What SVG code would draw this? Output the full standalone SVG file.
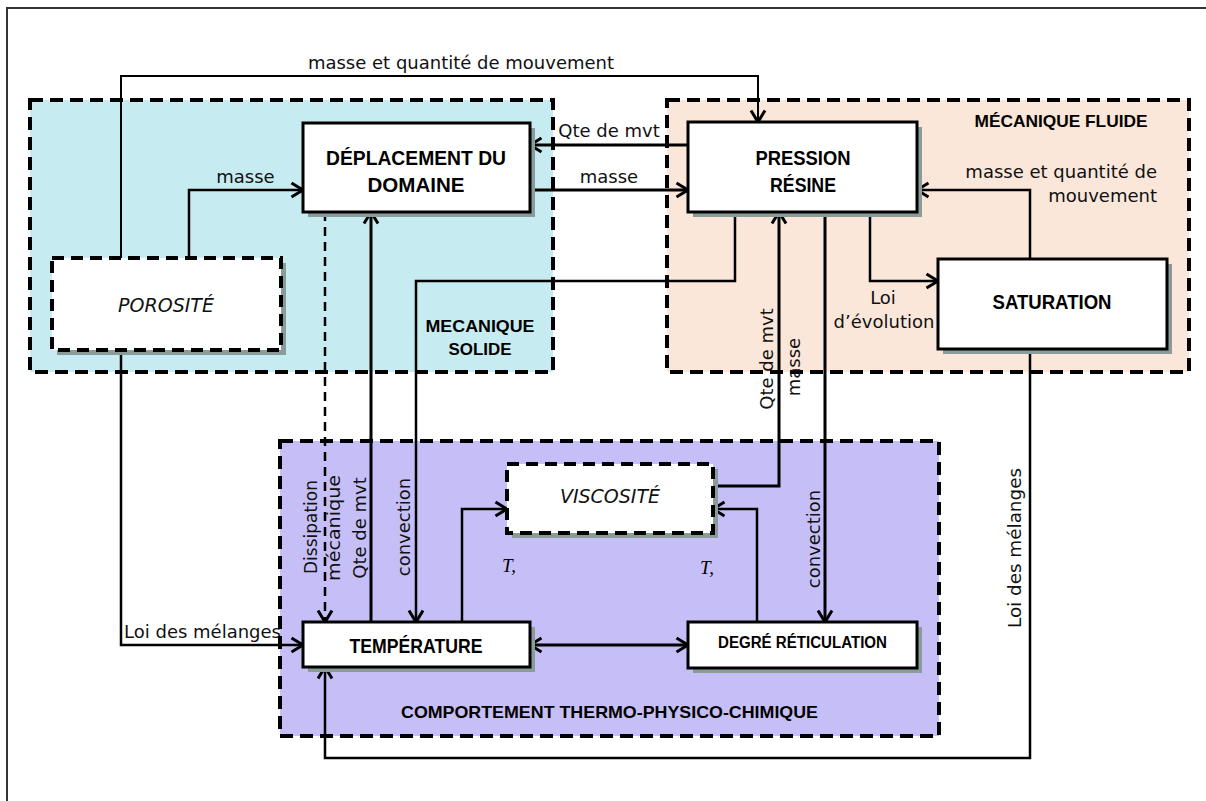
<svg xmlns="http://www.w3.org/2000/svg" width="1206" height="801" viewBox="0 0 1206 801">
<defs>
<style>
.bg{fill:#ffffff}
.reg{stroke:#000;stroke-width:4;stroke-dasharray:13 7}
.box{fill:#ffffff;stroke:#000;stroke-width:3}
.dbox{fill:#ffffff;stroke:#000;stroke-width:4;stroke-dasharray:12 7}
.sh{fill:#8a9c9a}
.c{fill:none;stroke:#000;stroke-width:2.5;marker-end:url(#arr)}
.thin{stroke-width:2}
.thick{stroke-width:3}
.dash{stroke-dasharray:9 6}
.lbl{font-family:"DejaVu Sans",sans-serif;font-size:18px;fill:#111}
.mid{text-anchor:middle}
.end{text-anchor:end}
.ttl{font-family:"Liberation Sans",Arial,sans-serif;font-weight:bold;font-size:21px;text-anchor:middle;fill:#000}
.rttl{font-family:"Liberation Sans",Arial,sans-serif;font-weight:bold;font-size:17px;text-anchor:middle;fill:#000}
.it{font-family:"DejaVu Sans",sans-serif;font-style:italic;font-size:19px;text-anchor:middle;fill:#111}
.math{font-family:"Liberation Serif",serif;font-style:italic;font-size:19px;fill:#000}
</style>
<marker id="arr" markerUnits="userSpaceOnUse" markerWidth="16" markerHeight="18" viewBox="0 0 16 18" refX="13" refY="9" orient="auto-start-reverse">
<path d="M1.5,2 L13,9 L1.5,16" fill="none" stroke="#000" stroke-width="3" stroke-dasharray="none" stroke-linejoin="miter"/>
</marker>
</defs>
<rect class="bg" x="0" y="0" width="1206" height="801"/>
<path d="M7,801 V8 H1206" fill="none" stroke="#333" stroke-width="2"/>

<g id="region-solide">
<rect class="reg" x="30" y="100" width="523" height="272" fill="#c6ecf1"/>
<text class="rttl" x="480" y="332" textLength="109" lengthAdjust="spacingAndGlyphs">MECANIQUE</text>
<text class="rttl" x="480" y="355" textLength="63" lengthAdjust="spacingAndGlyphs">SOLIDE</text>
</g>
<g id="region-fluide">
<rect class="reg" x="667" y="100" width="522" height="272" fill="#fae7d9"/>
<text class="rttl" x="1061" y="127" textLength="173" lengthAdjust="spacingAndGlyphs">MÉCANIQUE FLUIDE</text>
</g>
<g id="region-thermo">
<rect class="reg" x="280" y="441" width="659" height="295" fill="#c6bff7"/>
<text class="rttl" x="609.5" y="718" textLength="417" lengthAdjust="spacingAndGlyphs">COMPORTEMENT THERMO-PHYSICO-CHIMIQUE</text>
</g>

<g id="connectors">
<path class="c thin" d="M121,258 V76 H758 V122"/>
<path class="c" d="M189,258 V190 H303"/>
<path class="c thick" d="M688,145 H530"/>
<path class="c thick" d="M530,190 H688"/>
<path class="c" d="M735,212 V281 H416 V622"/>
<path class="c thick" d="M371,622 V212"/>
<path class="c dash" d="M325,212 V622"/>
<path class="c thick" d="M713,486 H779 V212"/>
<path class="c" d="M757,622 V509 H713"/>
<path class="c thick" d="M825,212 V622"/>
<path class="c" d="M870,212 V281 H938"/>
<path class="c" d="M1030,259 V190 H917"/>
<path class="c" d="M1030,349 V758 H325 V667"/>
<path class="c" d="M121,350 V645 H303"/>
<path class="c" d="M462,622 V509 H507"/>
<path class="c thick" d="M530,645 H688" marker-start="url(#arr)"/>
<text class="lbl mid" x="461" y="69">masse et quantité de mouvement</text>
<text class="lbl mid" x="245.5" y="183">masse</text>
<text class="lbl mid" x="609" y="137">Qte de mvt</text>
<text class="lbl mid" x="609" y="183">masse</text>
<text class="lbl end" x="1157" y="178">masse et quantité de</text>
<text class="lbl end" x="1157" y="202">mouvement</text>
<text class="lbl mid" x="883" y="304">Loi</text>
<text class="lbl mid" x="884" y="328">d’évolution</text>
<text class="lbl" x="124" y="638" textLength="157" lengthAdjust="spacingAndGlyphs">Loi des mélanges</text>
<text class="lbl mid" transform="translate(317,527) rotate(-90)" textLength="94" lengthAdjust="spacingAndGlyphs">Dissipation</text>
<text class="lbl mid" transform="translate(340,528) rotate(-90)" textLength="106" lengthAdjust="spacingAndGlyphs">mécanique</text>
<text class="lbl mid" transform="translate(366,528) rotate(-90)">Qte de mvt</text>
<text class="lbl mid" transform="translate(410,527) rotate(-90)">convection</text>
<text class="lbl mid" transform="translate(773,359) rotate(-90)">Qte de mvt</text>
<text class="lbl mid" transform="translate(800,367) rotate(-90)">masse</text>
<text class="lbl mid" transform="translate(820,539) rotate(-90)">convection</text>
<text class="lbl mid" transform="translate(1021,548) rotate(-90)" textLength="160" lengthAdjust="spacingAndGlyphs">Loi des mélanges</text>
<text class="math" x="502" y="572">T,</text>
<text class="math" x="700" y="574">T,</text>
</g>

<g id="node-deplacement">
<rect class="sh" x="308" y="128" width="227" height="89"/>
<rect class="box" x="303" y="123" width="227" height="89"/>
<text class="ttl" x="416" y="165" textLength="180" lengthAdjust="spacingAndGlyphs">DÉPLACEMENT DU</text>
<text class="ttl" x="416" y="192" textLength="97" lengthAdjust="spacingAndGlyphs">DOMAINE</text>
</g>
<g id="node-pression">
<rect class="sh" x="693" y="127" width="229" height="90"/>
<rect class="box" x="688" y="122" width="229" height="90"/>
<text class="ttl" x="803" y="165" textLength="95" lengthAdjust="spacingAndGlyphs">PRESSION</text>
<text class="ttl" x="803" y="192" textLength="66" lengthAdjust="spacingAndGlyphs">RÉSINE</text>
</g>
<g id="node-porosite">
<rect class="sh" x="57" y="263" width="229" height="92"/>
<rect class="dbox" x="52" y="258" width="229" height="92"/>
<text class="it" x="166" y="312">POROSITÉ</text>
</g>
<g id="node-saturation">
<rect class="sh" x="943" y="264" width="229" height="90"/>
<rect class="box" x="938" y="259" width="229" height="90"/>
<text class="ttl" x="1052" y="309" textLength="119" lengthAdjust="spacingAndGlyphs">SATURATION</text>
</g>
<g id="node-viscosite">
<rect class="sh" x="512" y="469" width="206" height="69"/>
<rect class="dbox" x="507" y="464" width="206" height="69"/>
<text class="it" x="610" y="503">VISCOSITÉ</text>
</g>
<g id="node-temperature">
<rect class="sh" x="308" y="627" width="227" height="45"/>
<rect class="box" x="303" y="622" width="227" height="45"/>
<text class="ttl" x="416" y="653" textLength="133" lengthAdjust="spacingAndGlyphs">TEMPÉRATURE</text>
</g>
<g id="node-reticulation">
<rect class="sh" x="693" y="627" width="229" height="46"/>
<rect class="box" x="688" y="622" width="229" height="46"/>
<text class="ttl" x="802.5" y="648" style="font-size:16px" textLength="169" lengthAdjust="spacingAndGlyphs">DEGRÉ RÉTICULATION</text>
</g>
</svg>
